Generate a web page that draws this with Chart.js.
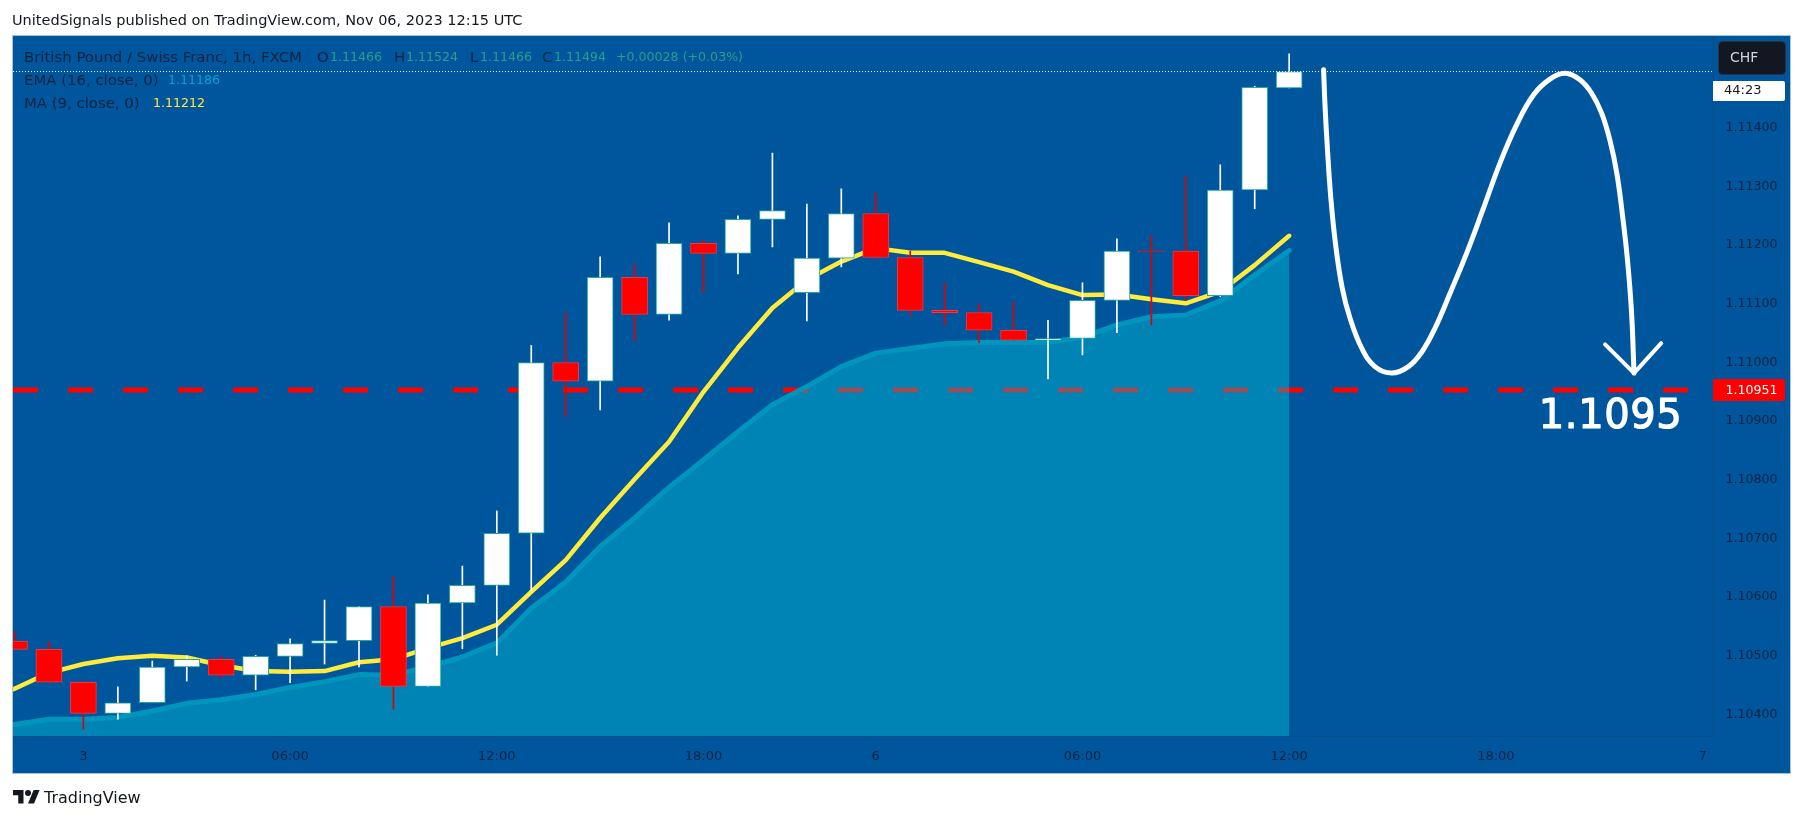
<!DOCTYPE html>
<html><head><meta charset="utf-8">
<script src="https://cdn.jsdelivr.net/npm/chart.js@4/dist/chart.umd.js"></script>
<style>
html,body{margin:0;padding:0;background:#fff;overflow:hidden}
#wrap{position:relative;width:1804px;height:821px}
canvas{position:absolute;left:0;top:0}
.t{position:absolute;white-space:nowrap;font-family:"DejaVu Sans",sans-serif;line-height:16px;font-size:12.6px}
.w{font-size:14.9px}
</style></head><body>
<div id="wrap"><canvas id="c" width="1804" height="821"></canvas>
<div class="t" style="left:12px;top:12px;font-size:14.5px;color:#131722">UnitedSignals published on TradingView.com, Nov 06, 2023 12:15 UTC</div>
<div class="t w" style="left:24px;top:49px;color:#0f2240">British Pound / Swiss Franc, 1h, FXCM</div>
<div class="t w" style="left:317px;top:49px;color:#0f2240">O</div>
<div class="t" style="left:330px;top:49px;color:#2a9d8f">1.11466</div>
<div class="t w" style="left:394px;top:49px;color:#0f2240">H</div>
<div class="t" style="left:406px;top:49px;color:#2a9d8f">1.11524</div>
<div class="t w" style="left:470px;top:49px;color:#0f2240">L</div>
<div class="t" style="left:480px;top:49px;color:#2a9d8f">1.11466</div>
<div class="t w" style="left:542px;top:49px;color:#0f2240">C</div>
<div class="t" style="left:554px;top:49px;color:#2a9d8f">1.11494</div>
<div class="t" style="left:616px;top:49px;color:#2a9d8f">+0.00028 (+0.03%)</div>
<div class="t w" style="left:24px;top:72px;color:#0f2240">EMA (16, close, 0)</div>
<div class="t" style="left:168px;top:72px;color:#00a5cc">1.11186</div>
<div class="t w" style="left:24px;top:95px;color:#0f2240">MA (9, close, 0)</div>
<div class="t" style="left:153px;top:95px;color:#ffeb3b">1.11212</div>
<svg style="position:absolute;left:13px;top:787px" width="27" height="21" viewBox="0 0 36 28"><path fill="#131722" d="M14 22H7V11H0V4h14v18zM28 22h-8l7.5-18h8L28 22z"/><circle fill="#131722" cx="20" cy="8" r="4"/></svg>
<div class="t" style="left:44px;top:790px;font-size:16px;color:#131722">TradingView</div>
</div>
<script>
const candleHours=[-2,-1,0,1,2,3,4,5,6,7,8,9,10,11,12,13,14,15,16,17,18,19,20,21,22,23,24,25,26,27,28,29,30,31,32,33,34,35];
const opens=[1.10523,1.10509,1.10453,1.10400,1.10418,1.10479,1.10492,1.10465,1.10497,1.10519,1.10524,1.10582,1.10446,1.10588,1.10618,1.10707,1.10998,1.10966,1.11143,1.11080,1.11201,1.11184,1.11242,1.11117,1.11176,1.11252,1.11177,1.11087,1.11083,1.11053,1.11036,1.11039,1.11104,1.11188,1.11188,1.11112,1.11292,1.11466];
const closes=[1.10509,1.10453,1.10400,1.10418,1.10479,1.10492,1.10465,1.10497,1.10519,1.10524,1.10582,1.10446,1.10588,1.10618,1.10707,1.10998,1.10966,1.11143,1.11080,1.11201,1.11184,1.11242,1.11257,1.11176,1.11252,1.11177,1.11087,1.11083,1.11053,1.11036,1.11039,1.11104,1.11188,1.11187,1.11112,1.11292,1.11467,1.11494];
const highs=[1.10540,1.10522,1.10455,1.10445,1.10489,1.10498,1.10498,1.10499,1.10527,1.10593,1.10582,1.10634,1.10602,1.10651,1.10745,1.11027,1.11083,1.11178,1.11166,1.11236,1.11207,1.11248,1.11355,1.11268,1.11294,1.11287,1.11188,1.11134,1.11098,1.11101,1.11070,1.11134,1.11209,1.11214,1.11316,1.11335,1.11469,1.11524];
const lows=[1.10509,1.10453,1.10373,1.10390,1.10418,1.10455,1.10461,1.10440,1.10452,1.10484,1.10479,1.10407,1.10446,1.10510,1.10499,1.10609,1.10906,1.10917,1.11035,1.11070,1.11117,1.11149,1.11195,1.11069,1.11161,1.11174,1.11078,1.11061,1.11032,1.11036,1.10970,1.11011,1.11049,1.11062,1.11104,1.11110,1.11260,1.11466];
const lineHours=[-3,-2,-1,0,1,2,3,4,5,6,7,8,9,10,11,12,13,14,15,16,17,18,19,20,21,22,23,24,25,26,27,28,29,30,31,32,33,34,35];
const maValues=[1.10414,1.10442,1.10469,1.10484,1.10494,1.10498,1.10495,1.10482,1.10472,1.10471,1.10472,1.10487,1.10492,1.10511,1.10528,1.10551,1.10607,1.10661,1.10733,1.10799,1.10863,1.10948,1.11023,1.11091,1.11139,1.11170,1.11193,1.11185,1.11185,1.11169,1.11153,1.11130,1.11113,1.11114,1.11106,1.11099,1.11119,1.11164,1.11214];
const emaValues=[1.10378,1.10381,1.10390,1.10390,1.10393,1.10404,1.10417,1.10423,1.10432,1.10444,1.10454,1.10466,1.10465,1.10479,1.10496,1.10520,1.10579,1.10624,1.10684,1.10733,1.10785,1.10832,1.10880,1.10926,1.10957,1.10991,1.11014,1.11022,1.11030,1.11032,1.11032,1.11032,1.11041,1.11062,1.11076,1.11079,1.11103,1.11147,1.11189];
const sketchHours=[36.00,36.04,36.11,36.21,36.35,36.54,36.77,37.11,37.49,37.98,38.46,38.85,39.23,39.67,40.15,40.64,41.12,41.60,42.09,42.57,43.01,43.44,43.78,44.07,44.31,44.51,44.68,44.82,44.94,45.01];
const sketchPrices=[1.11497,1.11437,1.11363,1.11278,1.11198,1.11125,1.11073,1.11022,1.10991,1.10980,1.10991,1.11016,1.11056,1.11116,1.11184,1.11261,1.11338,1.11403,1.11454,1.11481,1.11491,1.11480,1.11457,1.11423,1.11377,1.11321,1.11247,1.11173,1.11082,1.10980];
const arrowHours=[44.17,45.01,45.80];
const arrowPrices=[1.11029,1.10980,1.11031];
const targetPrice=1.10951;
const targetHours=[-2.04,46.58];
const lastPrice=1.11494;
const xRange=[-2.0436,47.303];
const yRange=[1.103613,1.115546];
const priceTicks=[1.104,1.105,1.106,1.107,1.108,1.109,1.11,1.111,1.112,1.113,1.114];
const tickHours=[0,6,12,18,23,29,35,41,47];
const tickLabels=['3','06:00','12:00','18:00','6','06:00','12:00','18:00','7'];

const UP='#ffffff',DOWN='#ff0000';
const isUp=(i)=>closes[i]>=opens[i];
const pts=(xs,ys)=>xs.map((x,i)=>({x,y:ys[i]}));
const mono='"DejaVu Sans",sans-serif';

const frame={id:'frame',
 beforeDraw(c){const g=c.ctx;g.save();g.fillStyle='#fff';g.fillRect(0,0,1804,821);
  g.fillStyle='#00569c';g.fillRect(13,36,1777,737);
  g.strokeStyle='#a9c4da';g.lineWidth=1;g.strokeRect(12.5,35.5,1778,738);g.restore();},
 afterDraw(c){const g=c.ctx,y=c.scales.y,x=c.scales.x;g.save();
  g.textBaseline='middle';
  g.fillStyle='#131722';g.strokeStyle='#2a3040';g.beginPath();g.roundRect(1718.5,41.5,67,33,4);g.fill();g.stroke();
  g.fillStyle='#d1d4dc';g.font='14px '+mono;g.textAlign='left';g.fillText('CHF',1730,58.5);
  g.fillStyle='#fff';g.beginPath();g.roundRect(1713,81,72,20,[0,2,2,0]);g.fill();
  g.fillStyle='#131722';g.font='13px '+mono;g.fillText('44:23',1724,91);
  const ty=y.getPixelForValue(targetPrice);
  g.fillStyle='#ff0000';g.beginPath();g.roundRect(1713,ty-11,72,22,[0,2,2,0]);g.fill();
  g.fillStyle='#fff';g.font='12.6px '+mono;g.fillText(targetPrice.toFixed(5),1725.5,ty+1);
  g.font='40px '+mono;g.letterSpacing='0.6px';g.fillStyle='#fff';g.strokeStyle='#fff';g.lineWidth=1.2;g.lineJoin='round';g.textAlign='center';
  const tx=x.getPixelForValue(44.33),tt=ty+28;
  g.strokeText('1.1095',tx,tt);g.fillText('1.1095',tx,tt);
  g.restore();}};

new Chart(document.getElementById('c'),{
 type:'bar',plugins:[frame],
 data:{datasets:[
  {type:'line',data:pts(sketchHours,sketchPrices),borderColor:'#fff',borderWidth:5,tension:0.4,pointRadius:0,borderCapStyle:'round',borderJoinStyle:'round',order:1},
  {type:'line',data:pts(arrowHours,arrowPrices),borderColor:'#fff',borderWidth:4,tension:0,pointRadius:0,borderCapStyle:'round',borderJoinStyle:'round',order:1},
  {type:'line',data:pts(xRange,[lastPrice,lastPrice]),borderColor:'#ffffff',borderWidth:1,borderDash:[1,2],tension:0,pointRadius:0,order:2},
  {type:'bar',data:candleHours.map((h,i)=>({x:h,y:[opens[i],closes[i]]})),barThickness:26,grouped:false,
   backgroundColor:candleHours.map((h,i)=>isUp(i)?UP:DOWN),borderColor:candleHours.map((h,i)=>isUp(i)?'#26a69a':'#f23645'),borderWidth:1,borderSkipped:false,order:3},
  {type:'bar',data:candleHours.map((h,i)=>({x:h,y:[lows[i],highs[i]]})),barThickness:1,grouped:false,
   backgroundColor:candleHours.map((h,i)=>isUp(i)?UP:'#e00000'),borderWidth:0,order:4},
  {type:'line',data:pts(lineHours,maValues),borderColor:'#ffeb3b',borderWidth:4.5,tension:0,pointRadius:0,borderCapStyle:'round',borderJoinStyle:'round',order:5},
  {type:'line',data:pts(lineHours,emaValues),borderColor:'#0095bd',borderWidth:5,tension:0,pointRadius:0,borderCapStyle:'round',borderJoinStyle:'round',fill:'start',backgroundColor:'rgba(0,193,216,0.42)',order:6},
  {type:'line',data:pts(targetHours,[targetPrice,targetPrice]),borderColor:'#ff0000',borderWidth:5,borderDash:[25,30],tension:0,pointRadius:0,order:7}
 ]},
 options:{responsive:false,animation:false,events:[],devicePixelRatio:1,
  layout:{autoPadding:false,padding:{left:13,top:36,right:14,bottom:48}},
  plugins:{legend:{display:false},tooltip:{enabled:false},title:{display:false}},
  scales:{
   x:{type:'linear',offset:false,min:xRange[0],max:xRange[1],
    grid:{display:false,drawTicks:false,offset:false},border:{display:true,color:'#0a4c85',width:1},
    afterBuildTicks(a){a.ticks=tickHours.map(v=>({value:v}));},
    afterFit(a){a.height=37;},
    ticks:{autoSkip:false,maxRotation:0,padding:13,color:'#0f2240',font:{family:mono,size:13},callback:v=>tickLabels[tickHours.indexOf(v)]}},
   y:{type:'linear',position:'right',min:yRange[0],max:yRange[1],
    grid:{display:false,drawTicks:false},border:{display:true,color:'#0a4c85',width:1},
    afterBuildTicks(a){a.ticks=priceTicks.map(v=>({value:v}));},
    afterFit(a){a.width=77;},
    ticks:{padding:12.5,labelOffset:1,color:'#0f2240',font:{family:mono,size:12.6},callback:v=>v.toFixed(5)}}
  }}
});
</script></body></html>
